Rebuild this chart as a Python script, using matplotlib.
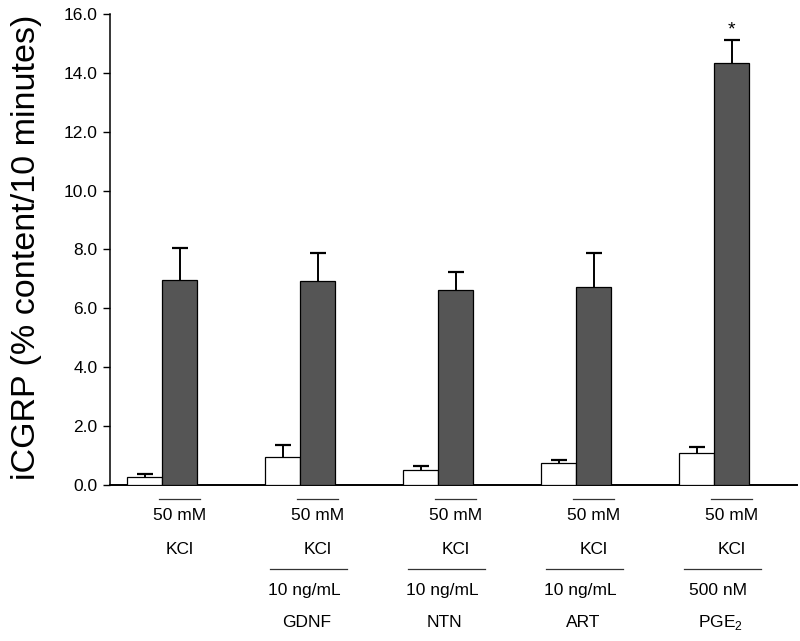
import matplotlib
matplotlib.use("Agg")
import matplotlib.pyplot as plt
import matplotlib.transforms as mtransforms
import numpy as np

plt.rcParams['font.family'] = ['Liberation Sans', 'DejaVu Sans']
plt.rcParams['mathtext.fontset'] = 'custom'
plt.rcParams['mathtext.rm'] = 'Liberation Sans'

groups = ["KCl", "GDNF", "NTN", "ART", "PGE2"]
basal = [0.26, 0.94, 0.51, 0.74, 1.08]
basal_err = [0.10, 0.42, 0.15, 0.11, 0.22]
stim = [6.96, 6.94, 6.62, 6.73, 14.32]
stim_err = [1.09, 0.93, 0.63, 1.14, 0.78]
kcl_dose = ["50 mM"] * 5
kcl_name = ["KCl"] * 5
drug_dose = [None, "10 ng/mL", "10 ng/mL", "10 ng/mL", "500 nM"]
drug_name = [None, "GDNF", "NTN", "ART", r"PGE$_\mathregular{2}$"]
yticks = [0.0, 2.0, 4.0, 6.0, 8.0, 10.0, 12.0, 14.0, 16.0]
significant = [False, False, False, False, True]

fig = plt.figure(figsize=(8.0, 6.41), dpi=100)
ax = fig.add_axes([0.1375, 0.2434, 0.8585, 0.7348])

x = np.arange(len(groups))
w = 0.2536
ax.bar(x - w / 2, basal, width=w, color='white', edgecolor='black', linewidth=0.9, zorder=3)
ax.bar(x + w / 2, stim, width=w, color='#555555', edgecolor='black', linewidth=0.9, zorder=3)
for xs, ys, es in [(x - w / 2, basal, basal_err), (x + w / 2, stim, stim_err)]:
    eb = ax.errorbar(xs, ys, yerr=[np.zeros(len(es)), es], fmt='none', ecolor='black',
                     elinewidth=1.4, capsize=5.5, capthick=1.6, zorder=4)
    caps = eb.lines[1]
    if len(caps) > 1:
        caps[0].set_visible(False)

for i, s in enumerate(significant):
    if s:
        ax.annotate('*', xy=(x[i] + w / 2, stim[i] + stim_err[i]), xytext=(0, 1.5),
                    textcoords='offset points', ha='center', va='bottom', fontsize=14)

ax.set_xlim(-0.377, 4.60)
ax.set_ylim(0, 16)
ax.set_yticks(yticks)
ax.set_yticklabels([f"{v:.1f}" for v in yticks], fontsize=12.5)
ax.tick_params(axis='y', direction='out', length=5, width=1, pad=4)
ax.set_xticks([])
for side in ['top', 'right']:
    ax.spines[side].set_visible(False)
ax.spines['left'].set_linewidth(1.1)
ax.spines['bottom'].set_linewidth(1.4)
ax.set_ylabel('iCGRP (% content/10 minutes)', fontsize=24.5)
ax.yaxis.set_label_coords(-0.099, 0.505)

trans = mtransforms.blended_transform_factory(ax.transData, ax.transAxes)
for i in range(len(groups)):
    cx = x[i] + w / 2
    ax.plot([cx - 0.152, cx + 0.152], [-0.0297, -0.0297], transform=trans, color='#333333',
            lw=0.9, clip_on=False)
    ax.text(cx, -0.0658, kcl_dose[i], transform=trans, ha='center', va='center', fontsize=12.5)
    ax.text(cx, -0.136, kcl_name[i], transform=trans, ha='center', va='center', fontsize=12.5)
    if drug_dose[i] is not None:
        dx = x[i] + 0.06
        ax.plot([dx - 0.28, dx + 0.28], [-0.178, -0.178], transform=trans, color='#333333',
                lw=0.9, clip_on=False)
        ax.text(dx - 0.03, -0.225, drug_dose[i], transform=trans, ha='center', va='center', fontsize=12.5)
        ax.text(dx - 0.01, -0.293, drug_name[i], transform=trans, ha='center', va='center', fontsize=12.5)

fig.savefig('out.png', dpi=100)
